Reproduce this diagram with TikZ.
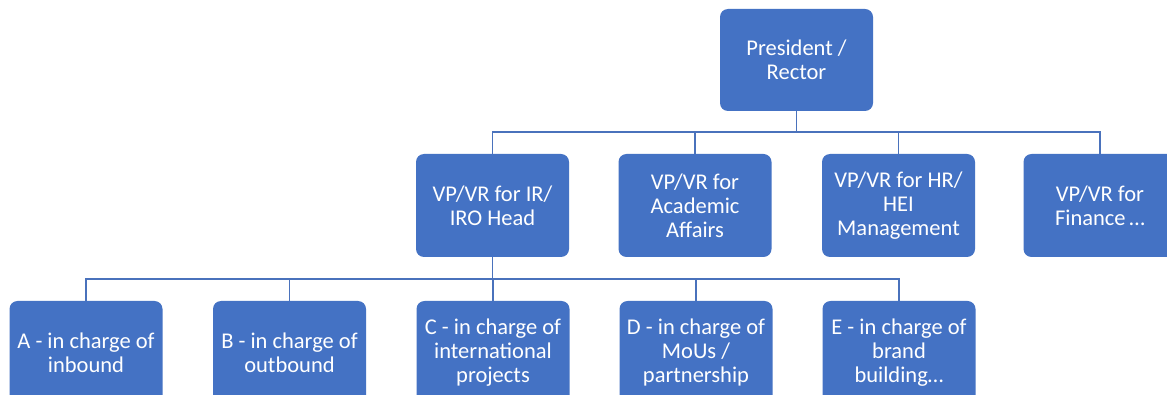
\documentclass[tikz,border=0pt]{standalone}
\usepackage{fontspec}
\setmainfont{Carlito}
\definecolor{boxblue}{HTML}{4472C4}
\definecolor{lineblue}{HTML}{4A72BC}
\begin{document}
\begin{tikzpicture}[x=1pt,y=-1pt,
  orgbox/.style={fill=boxblue, draw=none, rounded corners=8pt, text=white,
    align=center, minimum width=153pt, minimum height=103pt, inner sep=0pt,
    font=\fontsize{22.5}{24}\selectfont},
  conn/.style={draw=lineblue, line width=1.8pt}]
\clip (0,0) rectangle (1167,395);
\fill[white] (0,0) rectangle (1167,395);
% top
\node[orgbox, minimum height=102pt] (pres) at (796.5,60) {President /\\Rector};
% level 2
\node[orgbox] (ir)   at (492.5,205.5) {VP/VR for IR/\\IRO Head};
\node[orgbox] (acad) at (695,205.5) {VP/VR for\\Academic\\Affairs};
\node[orgbox] (hr)   at (898.5,205.5) {VP/VR for HR/\\HEI\\Management};
\node[orgbox] (fin)  at (1100,205.5) {VP/VR for\\Finance\,\ldots};
% level 3
\node[orgbox] (a) at (86,352.5) {A - in charge of\\inbound};
\node[orgbox] (b) at (289.5,352.5) {B - in charge of\\outbound};
\node[orgbox] (c) at (493,352.5) {C - in charge of\\international\\projects};
\node[orgbox] (d) at (696,352.5) {D - in charge of\\MoUs /\\partnership};
\node[orgbox] (e) at (899,352.5) {E - in charge of\\brand\\building\ldots};
% buses
\coordinate (bus1) at (796.5,132);
\coordinate (bus2) at (492.5,279);
\draw[conn] (pres.south) -- (bus1);
\draw[conn] (ir.north) |- (bus1);
\draw[conn] (acad.north) |- (bus1);
\draw[conn] (hr.north) |- (bus1);
\draw[conn] (fin.north) |- (bus1);
\draw[conn] (ir.south) -- (bus2);
\draw[conn] (a.north) |- (bus2);
\draw[conn] (b.north) |- (bus2);
\draw[conn] (c.north) |- (bus2);
\draw[conn] (d.north) |- (bus2);
\draw[conn] (e.north) |- (bus2);
\end{tikzpicture}
\end{document}
